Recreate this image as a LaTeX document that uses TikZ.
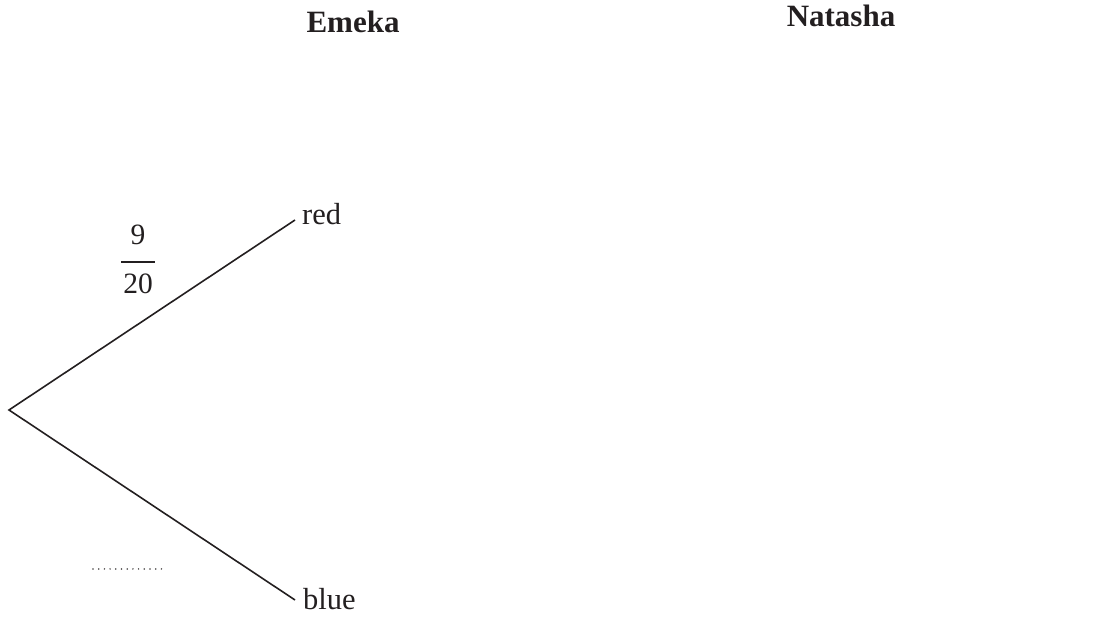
\documentclass[tikz,border=0pt]{standalone}
\usepackage{fontspec}
\setmainfont{Liberation Serif}
\definecolor{ink}{HTML}{231F20}
\begin{document}
\begin{tikzpicture}[x=1pt,y=1pt,
  branch/.style={draw=ink,line width=1.6pt},
  lbl/.style={inner sep=0pt,text=ink,font=\fontsize{30.5}{36}\selectfont},
  head/.style={inner sep=0pt,text=ink,font=\fontsize{31}{36}\selectfont\bfseries},
  frac/.style={inner sep=0pt,text=ink,font=\fontsize{29.5}{34}\selectfont},
  ansline/.style={draw=ink!85,line width=1.7pt,dash pattern=on 0pt off 5.7pt,line cap=round}]
\useasboundingbox (0,0) rectangle (1097,628);
% headings
\node[head,anchor=base] (emeka) at (353,595) {Emeka};
\node[head,anchor=base] (natasha) at (841,601) {Natasha};
% tree
\coordinate (root) at (9,218);
\coordinate (r1) at (295,408);
\coordinate (b1) at (295,28);
\node[lbl,anchor=base west] (red) at (302,403) {red};
\node[lbl,anchor=base west] (blue) at (303,18) {blue};
\draw[branch,line join=miter] (r1) -- (root) -- (b1);
% fraction
\node[frac,anchor=base] (num) at (138,383) {9};
\node[frac,anchor=base] (den) at (138,334) {20};
\coordinate (barL) at (121,366);
\coordinate (barR) at (155,366);
\draw[draw=ink,line width=1.4pt] (barL) -- (barR);
% answer space
\coordinate (aL) at (93,59);
\coordinate (aR) at (167,59);
\draw[ansline] (aL) -- (aR);
\end{tikzpicture}
\end{document}
